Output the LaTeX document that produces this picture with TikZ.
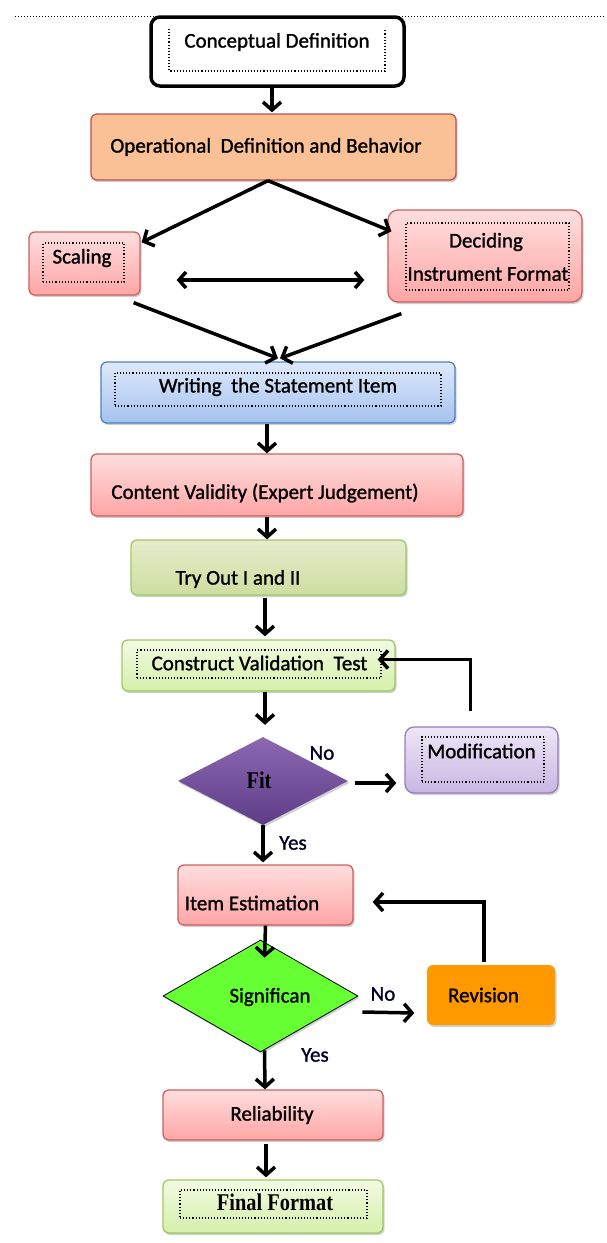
\documentclass[tikz,border=0pt]{standalone}
\usepackage{fontspec}
\setmainfont[FakeBold=1.2]{Carlito}
\newfontfamily\serifb[FakeStretch=0.85]{Liberation Serif}
\usetikzlibrary{arrows.meta,shapes.geometric,shadows,calc}
\definecolor{boxred}{RGB}{205,95,95}
\definecolor{pinktop}{RGB}{255,222,222}
\definecolor{pinkbot}{RGB}{255,165,165}
\definecolor{opfill}{RGB}{250,192,150}
\definecolor{opborder}{RGB}{192,80,77}
\definecolor{bluetop}{RGB}{222,233,250}
\definecolor{bluebot}{RGB}{165,194,240}
\definecolor{blueborder}{RGB}{79,129,189}
\definecolor{olivetop}{RGB}{229,237,203}
\definecolor{olivebot}{RGB}{205,222,160}
\definecolor{greenborder}{RGB}{160,200,100}
\definecolor{lgtop}{RGB}{242,250,226}
\definecolor{lgbot}{RGB}{212,240,170}
\definecolor{purptop}{RGB}{238,231,247}
\definecolor{purpbot}{RGB}{200,182,226}
\definecolor{purpborder}{RGB}{150,125,190}
\definecolor{fittop}{RGB}{140,104,178}
\definecolor{fitbot}{RGB}{94,60,134}
\definecolor{signgreen}{RGB}{102,255,51}
\definecolor{revorange}{RGB}{255,153,0}
\begin{document}
\begin{tikzpicture}[x=1pt,y=-1pt,
  font=\fontsize{21}{25}\selectfont,
  box/.style={rectangle, rounded corners=6pt, line width=1.3pt, inner sep=0pt,
    drop shadow={shadow xshift=1.5pt, shadow yshift=-2pt, opacity=0.3, fill=black!60}},
  pinkbox/.style={box, draw=boxred, top color=pinktop, bottom color=pinkbot},
  bluebox/.style={box, draw=blueborder, top color=bluetop, bottom color=bluebot},
  olivebox/.style={box, draw=greenborder, top color=olivetop, bottom color=olivebot},
  lgbox/.style={box, draw=greenborder, top color=lgtop, bottom color=lgbot},
  purpbox/.style={box, draw=purpborder, top color=purptop, bottom color=purpbot},
  inner/.style={draw=black, dotted, line width=1.1pt, inner sep=0pt, rectangle},
  txt/.style={inner sep=0pt, text=black},
  lbl/.style={inner sep=0pt, text=black!85!blue},
  arr/.style={line width=3.5pt, -{Straight Barb[length=8pt,width=18pt]}},
  darr/.style={line width=3.5pt, {Straight Barb[length=7pt,width=16pt]}-{Straight Barb[length=7pt,width=16pt]}},
]
\useasboundingbox (0,0) rectangle (606,1243);
\fill[white] (0,0) rectangle (606,1243);
\draw[dotted, line width=1pt] (15,16) -- (604,16);

% boxes
\node[rectangle, rounded corners=9pt, draw=black, line width=3.5pt, fill=white,
  minimum width=253pt, minimum height=69pt] (concept) at (277.5,51.5) {};
\draw[dotted, line width=1.1pt] (169,29) -- (169,71) -- (385,71) -- (385,29);
\node[txt] (conceptT) at (277,42) {Conceptual Definition};

\node[box, draw=opborder, fill=opfill, minimum width=365pt, minimum height=66pt] (oper) at (273.5,147) {};
\node[txt] (operT) at (266,147) {Operational\ \ Definition and\ Behavior};

\node[pinkbox, minimum width=111pt, minimum height=63pt] (scaling) at (84.5,263.5) {};
\node[inner, minimum width=81pt, minimum height=39pt] (scalingI) at (83.5,262.5) {};
\node[txt] (scalingT) at (82,258) {Scaling};

\node[pinkbox, rounded corners=10pt, minimum width=194pt, minimum height=92pt] (deciding) at (485,256) {};
\node[inner, minimum width=163pt, minimum height=67pt] (decidingI) at (487.5,256.5) {};
\node[txt] (decidingT1) at (486,242) {Deciding};
\node[txt] (decidingT2) at (488,274) {Instrument Format};

\node[bluebox, minimum width=354pt, minimum height=61pt] (writing) at (278,392.5) {};
\node[inner, minimum width=326pt, minimum height=33pt] (writingI) at (278,389.5) {};
\node[txt] (writingT) at (278,387) {Writing\ \ the Statement Item};

\node[pinkbox, minimum width=372pt, minimum height=62pt] (content) at (277,485) {};
\node[txt] (contentT) at (265,493) {Content Validity (Expert Judgement)};

\node[olivebox, minimum width=275pt, minimum height=55pt] (tryout) at (268.5,567.5) {};
\node[txt] (tryoutT) at (238,579) {Try Out I and II};

\node[lgbox, minimum width=273pt, minimum height=51pt] (construct) at (258.5,665.5) {};
\node[inner, minimum width=244pt, minimum height=28pt] (constructI) at (259,664) {};
\node[txt] (constructT) at (259.5,663) {Construct Validation\ \ Test};

\node[diamond, inner sep=0pt, minimum width=170pt, minimum height=88pt,
  top color=fittop, bottom color=fitbot,
  drop shadow={shadow xshift=1.5pt, shadow yshift=-2pt, opacity=0.3, fill=black!60}] (fit) at (263,781) {};
\node[txt] (fitT) at (259,780) {\serifb\bfseries\fontsize{24}{26}\selectfont Fit};

\node[purpbox, rounded corners=9pt, minimum width=153pt, minimum height=66pt] (modif) at (481.5,760) {};
\node[inner, minimum width=122pt, minimum height=45pt] (modifI) at (483,759.5) {};
\node[txt] (modifT) at (481.5,751) {Modification};

\node[pinkbox, minimum width=175pt, minimum height=60pt] (itemest) at (265.5,895) {};
\node[txt] (itemestT) at (252,903) {Item Estimation};

\node[diamond, inner sep=0pt, minimum width=195pt, minimum height=112pt,
  draw=black, line width=0.8pt, fill=signgreen,
  drop shadow={shadow xshift=1.5pt, shadow yshift=-2pt, opacity=0.3, fill=black!60}] (signif) at (260.5,996) {};
\node[txt] (signifT) at (270,997) {Significan};

\node[box, fill=revorange, minimum width=128pt, minimum height=60pt] (revision) at (491,995) {};
\node[txt] (revisionT) at (483.5,995) {Revision};

\node[pinkbox, minimum width=220pt, minimum height=50pt] (reliab) at (273,1115) {};
\node[txt] (reliabT) at (272,1115) {Reliability};

\node[lgbox, minimum width=220pt, minimum height=53pt] (final) at (273,1206.5) {};
\node[inner, minimum width=187pt, minimum height=28pt] (finalI) at (273.5,1204) {};
\node[txt] (finalT) at (275,1202) {\serifb\bfseries\fontsize{24}{26}\selectfont Final Format};

% labels
\node[lbl] (no1) at (322,753) {No};
\node[lbl] (yes1) at (293,843) {Yes};
\node[lbl] (no2) at (383,994) {No};
\node[lbl] (yes2) at (315,1055) {Yes};

% connectors
\draw[arr] ($(concept.south)+(-5.5,0)$) -- ($(oper.north)+(-1.5,-1)$);
\draw[arr] ($(oper.south)+(-5.5,0)$) -- ($(scaling.north east)+(1,11)$);
\draw[arr] ($(oper.south)+(-5.5,0)$) -- ($(deciding.north west)+(4,22)$);
\draw[darr] ($(scaling.east)+(36,16.5)$) -- ($(deciding.west)+(-23,24)$);
\draw[arr] ($(scaling.south east)+(-7,7)$) -- ($(writing.north)+(0,-3)$);
\draw[arr] ($(deciding.south west)+(14,11)$) -- ($(writing.north)+(2,-3)$);
\draw[arr] ($(writing.south)+(-11,0)$) -- ($(content.north)+(-10,0)$);
\draw[arr] ($(content.south)+(-10,0)$) -- ($(tryout.north)+(-1.5,0)$);
\draw[arr] ($(tryout.south)+(-3.5,2)$) -- ($(construct.north)+(6.5,-3)$);
\draw[arr] ($(construct.south)+(6.5,0)$) -- ($(fit.north)+(2,-12)$);
\draw[arr] ($(fit.east)+(7,2)$) -- ($(modif.west)+(-8,23)$);
\draw[arr] ($(modif.north)+(-11,-15)$) |- ($(construct.east)+(-18,-6)$);
\draw[arr] (fit.south) -- ($(itemest.north)+(-2.5,-2)$);
\draw[arr] (itemest.south) -- ($(signif.north)+(4,18)$);
\draw[arr] ($(signif.east)+(4,16)$) -- ($(revision.west)+(-12,18)$);
\draw[arr] ($(revision.north)+(-7,-2)$) |- ($(itemest.east)+(19,7)$);
\draw[arr] ($(signif.south)+(4,-2)$) -- ($(reliab.north)+(-8,0)$);
\draw[arr] ($(reliab.south)+(-7,3)$) -- ($(final.north)+(-7,-2)$);
\end{tikzpicture}
\end{document}
